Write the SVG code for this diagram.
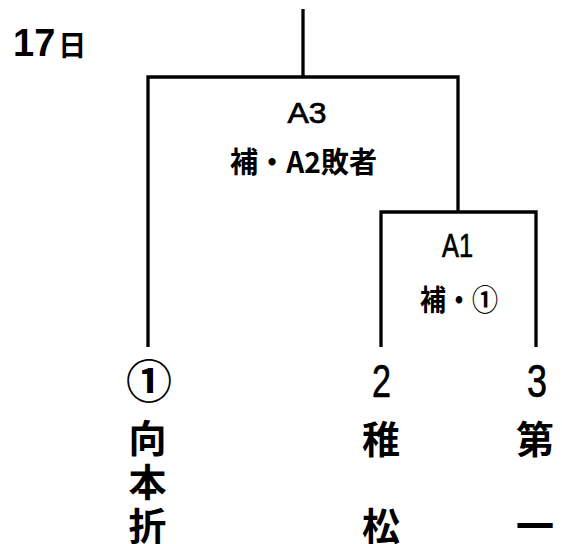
<svg xmlns="http://www.w3.org/2000/svg" width="562" height="544" viewBox="0 0 562 544">
<style>
.ln{fill:none;stroke:#000;stroke-width:3.3;stroke-linejoin:miter}
.lat{font-family:"Liberation Sans",Arial,sans-serif;fill:#000}
.med{stroke:#000;stroke-width:0.7}
.cjk{font-family:"Noto Sans CJK JP","Liberation Sans",sans-serif;fill:#000}
.b{font-weight:bold}
</style>
<rect width="562" height="544" fill="#fff"/>
<g id="title">
<text class="lat b" x="13" y="56" font-size="38">17<tspan class="cjk" font-size="28" dx="3">日</tspan></text>
</g>
<g id="connectors">
<path class="ln" d="M303 9V77"/>
<path class="ln" d="M148 347V77H458V212"/>
<path class="ln" d="M381 347V212H536V347"/>
</g>
<g id="match-A3">
<text class="lat med" x="307" y="123" font-size="29" text-anchor="middle" textLength="39" lengthAdjust="spacingAndGlyphs">A3</text>
<text class="cjk b" x="303.5" y="173" font-size="29" text-anchor="middle" textLength="147" lengthAdjust="spacingAndGlyphs">補・A2敗者</text>
</g>
<g id="match-A1">
<text class="lat med" x="457.5" y="257" font-size="33" text-anchor="middle" textLength="31" lengthAdjust="spacingAndGlyphs">A1</text>
<text class="cjk b" x="459" y="311" font-size="29" text-anchor="middle" textLength="78" lengthAdjust="spacingAndGlyphs">補・①</text>
</g>
<g id="team-1">
<text class="cjk b" x="149" y="398" font-size="46" text-anchor="middle">①</text>
<text class="cjk b" x="147.5" y="452" font-size="38" text-anchor="middle">向</text>
<text class="cjk b" x="147.5" y="496" font-size="38" text-anchor="middle">本</text>
<text class="cjk b" x="147.5" y="540" font-size="38" text-anchor="middle">折</text>
</g>
<g id="team-2">
<text class="lat med" x="381.5" y="397" font-size="47" text-anchor="middle" textLength="19" lengthAdjust="spacingAndGlyphs">2</text>
<text class="cjk b" x="381" y="453" font-size="38" text-anchor="middle">稚</text>
<text class="cjk b" x="381" y="540" font-size="38" text-anchor="middle">松</text>
</g>
<g id="team-3">
<text class="lat med" x="537" y="397" font-size="47" text-anchor="middle" textLength="20" lengthAdjust="spacingAndGlyphs">3</text>
<text class="cjk b" x="535" y="453" font-size="38" text-anchor="middle">第</text>
<text class="cjk b" x="535" y="540" font-size="38" text-anchor="middle">一</text>
</g>
</svg>
